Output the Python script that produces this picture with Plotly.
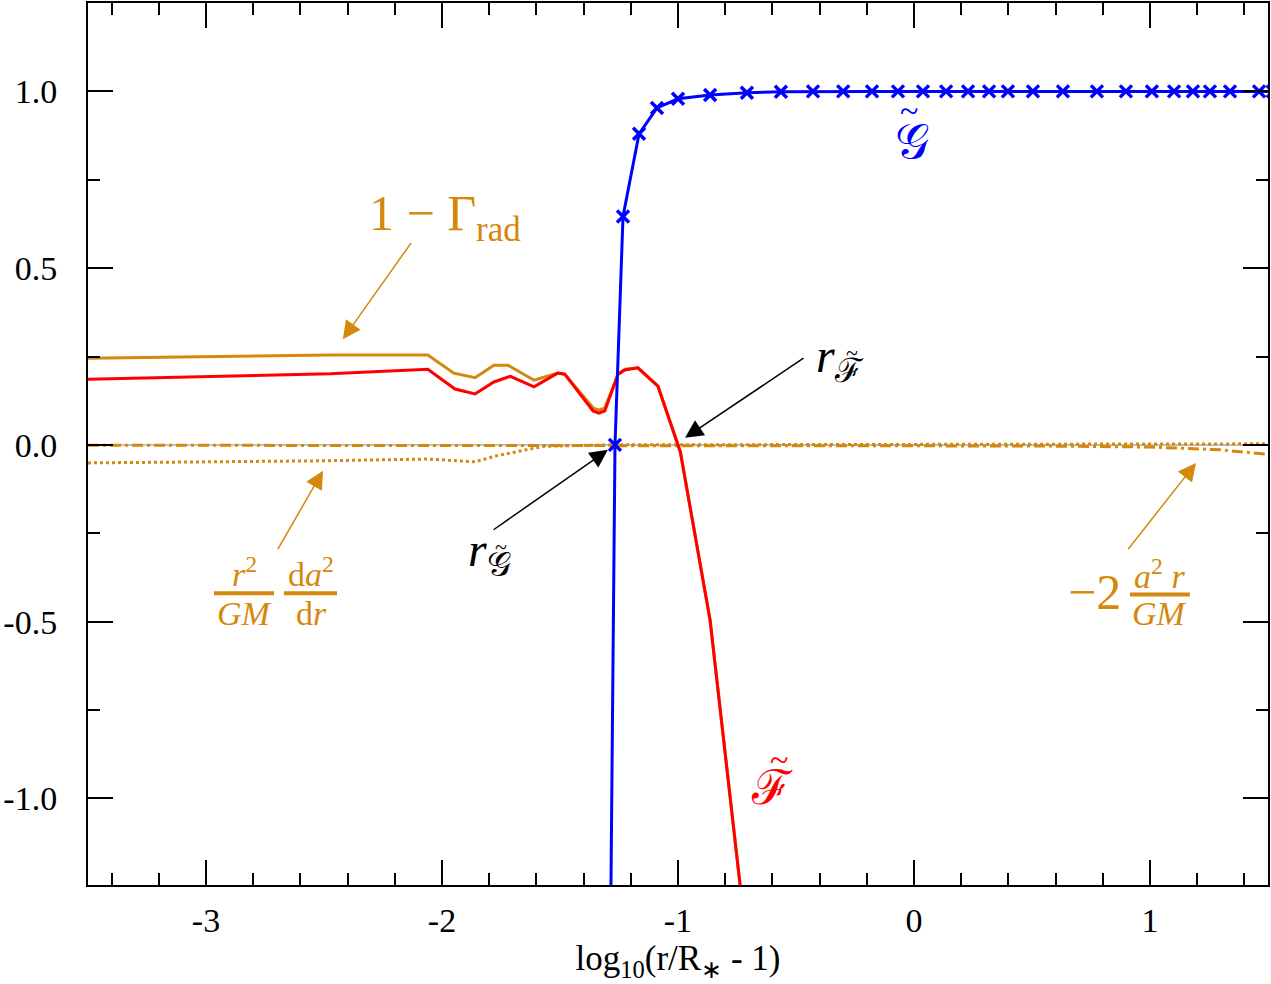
import plotly.graph_objects as go

# ---------------- data ----------------
x_gamma = [-3.5, -2.475, -2.06, -1.95, -1.86, -1.78, -1.72, -1.61, -1.51, -1.48, -1.36, -1.335, -1.31,
           -1.254, -1.225, -1.17, -1.085, -0.99, -0.864, -0.72]
y_gamma = [0.245, 0.254, 0.254, 0.203, 0.19, 0.225, 0.225, 0.183, 0.203, 0.2, 0.105, 0.098, 0.105,
           0.2, 0.214, 0.218, 0.166, -0.02, -0.496, -1.345]

x_F = [-3.5, -2.475, -2.06, -1.945, -1.86, -1.78, -1.71, -1.61, -1.51, -1.48, -1.36, -1.335, -1.31,
       -1.254, -1.225, -1.17, -1.085, -0.99, -0.864, -0.72]
y_F = [0.186, 0.201, 0.214, 0.158, 0.144, 0.178, 0.194, 0.164, 0.203, 0.2, 0.096, 0.09, 0.096,
       0.2, 0.212, 0.218, 0.166, -0.02, -0.496, -1.345]

x_G = [-1.29, -1.267, -1.233, -1.165, -1.089, -1.0, -0.864, -0.708, -0.564, -0.428, -0.30, -0.178,
       -0.068, 0.038, 0.136, 0.229, 0.318, 0.398, 0.504, 0.631, 0.775, 0.898, 1.008, 1.102, 1.182,
       1.254, 1.339, 1.462, 1.52]
y_G = [-1.68, 0.0, 0.646, 0.88, 0.953, 0.979, 0.99, 0.996, 0.999, 1.0, 1.0, 1.0,
       1.0, 1.0, 1.0, 1.0, 1.0, 1.0, 1.0, 1.0, 1.0, 1.0, 1.0, 1.0, 1.0,
       1.0, 1.0, 1.0, 1.0]

x_dadr = [-3.5, -3.0, -2.5, -2.06, -1.86, -1.77, -1.67, -1.57, -1.3, 0.0, 1.5]
y_dadr = [-0.051, -0.049, -0.045, -0.040, -0.048, -0.031, -0.017, -0.004, 0.0, 0.002, 0.003]

x_a2r = [-3.5, -2.0, -1.0, 0.0, 0.5, 1.0, 1.1, 1.3, 1.5]
y_a2r = [-0.001, -0.001, -0.002, -0.002, -0.003, -0.006, -0.008, -0.014, -0.027]

x_ticks = [-3, -2, -1, 0, 1]
x_ticklabels = ["-3", "-2", "-1", "0", "1"]
y_ticks = [-1.0, -0.5, 0.0, 0.5, 1.0]
y_ticklabels = ["-1.0", "-0.5", "0.0", "0.5", "1.0"]

# ---------------- style ----------------
ORANGE = "#d4880c"
RED = "#ff0000"
BLUE = "#0000ff"
FONT = "Liberation Serif"

fig = go.Figure()

fig.add_trace(go.Scatter(x=x_a2r, y=y_a2r, mode="lines",
                         line=dict(color=ORANGE, width=3, dash="11px,4px,3px,4px")))
fig.add_trace(go.Scatter(x=x_dadr, y=y_dadr, mode="lines",
                         line=dict(color=ORANGE, width=3, dash="3px,3px")))
fig.add_trace(go.Scatter(x=x_gamma, y=y_gamma, mode="lines",
                         line=dict(color=ORANGE, width=3)))
fig.add_trace(go.Scatter(x=x_F, y=y_F, mode="lines",
                         line=dict(color=RED, width=3)))
fig.add_trace(go.Scatter(x=x_G, y=y_G, mode="lines+markers",
                         line=dict(color=BLUE, width=3),
                         marker=dict(symbol="x-thin-open", size=12,
                                     line=dict(color=BLUE, width=3.5))))

# ---------------- arrows ----------------
def arrow(x, y, ax, ay, color, width=1.5, size=2.4):
    fig.add_annotation(x=x, y=y, ax=ax, ay=ay, xref="x", yref="y", axref="x", ayref="y",
                       text="", showarrow=True, arrowhead=2, arrowsize=size,
                       arrowwidth=width, arrowcolor=color)

arrow(-2.42, 0.299, -2.127, 0.575, ORANGE)
arrow(-0.97, 0.02, -0.462, 0.248, "black")
arrow(-1.297, -0.014, -1.788, -0.243, "black")
arrow(-2.504, -0.073, -2.699, -0.299, ORANGE)
arrow(1.195, -0.051, 0.903, -0.299, ORANGE)

# ---------------- labels ----------------
def label(x, y, text, color, size):
    fig.add_annotation(x=x, y=y, xref="x", yref="y", text=text, showarrow=False,
                       font=dict(family=FONT, size=size, color=color))

label(-1.987, 0.646, "1 − Γ<sub>rad</sub>", ORANGE, 50)
label(-0.314, 0.243, "<i>r</i><sub>ℱ</sub>", "black", 48)
label(-0.262, 0.262, "~", "black", 22)
label(-1.797, -0.307, "<i>r</i><sub>𝒢</sub>", "black", 48)
label(-1.752, -0.288, "~", "black", 22)
label(-0.008, 0.858, "𝒢", BLUE, 48)
label(-0.02, 0.945, "~", BLUE, 34)
label(-0.602, -0.968, "ℱ", RED, 48)
label(-0.57, -0.89, "~", RED, 34)

label(-2.839, -0.360, "<i>r</i><sup>2</sup>", ORANGE, 34)
label(-2.839, -0.477, "<i>GM</i>", ORANGE, 34)
label(-2.555, -0.360, "d<i>a</i><sup>2</sup>", ORANGE, 34)
label(-2.555, -0.477, "d<i>r</i>", ORANGE, 34)
label(0.763, -0.417, "−2", ORANGE, 50)
label(1.042, -0.366, "<i>a</i><sup>2</sup> <i>r</i>", ORANGE, 34)
label(1.042, -0.477, "<i>GM</i>", ORANGE, 34)

for x0, x1, yb in [(-2.966, -2.712, -0.42), (-2.67, -2.445, -0.42), (0.915, 1.169, -0.423)]:
    fig.add_shape(type="line", x0=x0, x1=x1, y0=yb, y1=yb, xref="x", yref="y",
                  line=dict(color=ORANGE, width=4))

axis_common = dict(showline=True, linecolor="black", linewidth=2, mirror="ticks",
                   ticks="inside", ticklen=25, tickwidth=1.5, tickcolor="black",
                   showgrid=False, tickfont=dict(family=FONT, size=34, color="black"))

fig.update_xaxes(range=[-3.5, 1.5], tickvals=x_ticks, ticktext=x_ticklabels,
                 zeroline=False, ticklabelstandoff=4,
                 minor=dict(ticks="inside", ticklen=12, tickwidth=1.5, tickcolor="black",
                            dtick=0.2, tick0=0, showgrid=False),
                 title=dict(text="log<sub>10</sub>(r/R<sub>∗</sub> - 1)", standoff=8,
                            font=dict(family=FONT, size=35, color="black")),
                 **axis_common)
fig.update_yaxes(range=[-1.245, 1.25], tickvals=y_ticks, ticktext=y_ticklabels,
                 zeroline=True, zerolinecolor="#c0c0c0", zerolinewidth=1.5,
                 ticklabelstandoff=22,
                 minor=dict(ticks="inside", ticklen=12, tickwidth=1.5, tickcolor="black",
                            dtick=0.25, tick0=0, showgrid=False),
                 **axis_common)

fig.update_layout(width=1271, height=984, margin=dict(l=88, r=3, t=1, b=99),
                  plot_bgcolor="white", paper_bgcolor="white", showlegend=False,
                  font=dict(family=FONT))

fig.write_html("out.html")
